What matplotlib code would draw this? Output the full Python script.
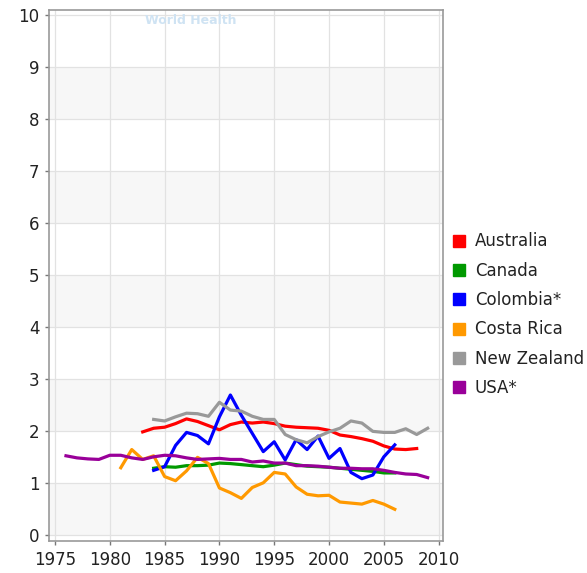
import matplotlib
matplotlib.use("Agg")
import matplotlib.pyplot as plt
from matplotlib.lines import Line2D

plt.rcParams['font.family'] = ['DejaVu Sans']

years_australia = list(range(1983, 2009))
australia = [1.98, 2.05, 2.07, 2.14, 2.23, 2.18, 2.10, 2.02, 2.12, 2.17, 2.15, 2.17, 2.14,
             2.09, 2.07, 2.06, 2.05, 2.01, 1.92, 1.89, 1.85, 1.80, 1.71, 1.65, 1.64, 1.66]

years_canada = list(range(1984, 2007))
canada = [1.28, 1.31, 1.30, 1.33, 1.33, 1.34, 1.38, 1.37, 1.35, 1.33, 1.31, 1.34, 1.38,
          1.35, 1.32, 1.31, 1.30, 1.28, 1.26, 1.24, 1.22, 1.19, 1.19]

years_colombia = list(range(1984, 2007))
colombia = [1.24, 1.31, 1.72, 1.97, 1.91, 1.75, 2.27, 2.69, 2.30, 1.95, 1.60, 1.79, 1.44,
            1.83, 1.64, 1.90, 1.47, 1.66, 1.20, 1.08, 1.15, 1.50, 1.73]

years_costa_rica = list(range(1981, 2007))
costa_rica = [1.29, 1.64, 1.45, 1.52, 1.12, 1.04, 1.23, 1.49, 1.37, 0.90, 0.81, 0.70, 0.91,
              1.00, 1.20, 1.17, 0.92, 0.78, 0.75, 0.76, 0.63, 0.61, 0.59, 0.66, 0.59, 0.49]

years_new_zealand = list(range(1984, 2010))
new_zealand = [2.22, 2.19, 2.27, 2.34, 2.33, 2.28, 2.55, 2.40, 2.38, 2.28, 2.22, 2.22, 1.93,
               1.83, 1.77, 1.89, 1.98, 2.05, 2.19, 2.15, 1.99, 1.97, 1.97, 2.04, 1.93, 2.05]

years_usa = list(range(1976, 2010))
usa = [1.52, 1.48, 1.46, 1.45, 1.53, 1.53, 1.48, 1.45, 1.50, 1.53, 1.52, 1.48, 1.45, 1.46,
       1.47, 1.45, 1.45, 1.40, 1.42, 1.38, 1.38, 1.33, 1.33, 1.32, 1.30, 1.28, 1.28, 1.27,
       1.27, 1.24, 1.20, 1.17, 1.16, 1.10]

series = [
    ("Australia", years_australia, australia, "#ff0000"),
    ("Canada", years_canada, canada, "#009900"),
    ("Colombia*", years_colombia, colombia, "#0000ff"),
    ("Costa Rica", years_costa_rica, costa_rica, "#ff9900"),
    ("New Zealand", years_new_zealand, new_zealand, "#999999"),
    ("USA*", years_usa, usa, "#990099"),
]

x_ticks = [1975, 1980, 1985, 1990, 1995, 2000, 2005, 2010]
y_ticks = list(range(0, 11))

fig = plt.figure(figsize=(5.87, 5.73), dpi=100)
ax = fig.add_axes([49/587, 1 - 541/573, (443 - 49)/587, (541 - 10)/573])

# alternating bands
for i in range(0, 10):
    if i % 2 == 0:
        ax.axhspan(i, i + 1, color="#f7f7f7", zorder=0, lw=0)

for name, xs, ys, c in series:
    ax.plot(xs, ys, color=c, lw=2.3, zorder=3, solid_joinstyle="round")

ax.set_xlim(1974.45, 2010.4)
ax.set_ylim(-0.12, 10.1)
ax.set_xticks(x_ticks)
ax.set_yticks(y_ticks)
ax.grid(True, color="#e2e2e2", lw=0.9, zorder=1)
ax.set_axisbelow(True)
for s in ax.spines.values():
    s.set_color("#999999")
    s.set_linewidth(1.2)
ax.tick_params(axis="both", labelsize=12, colors="#222222", length=3, width=1,
               color="#777777", pad=4)

handles = [Line2D([], [], marker="s", linestyle="none", markersize=8.5,
                  markerfacecolor=c, markeredgecolor=c) for _, _, _, c in series]
labels = [n for n, _, _, _ in series]
fig.legend(handles, labels, loc="upper left", bbox_to_anchor=(449/587, 1 - 229/573),
           frameon=False, fontsize=12, handlelength=0.8, handletextpad=0.55,
           labelspacing=0.68, borderaxespad=0, borderpad=0.2, labelcolor="#222222")

fig.text(145/587, 1 - 20/573, "World Health", color="#cfe3f3", fontsize=9,
         fontweight="bold", va="center", ha="left", zorder=0)

fig.savefig("out.png", dpi=100)
